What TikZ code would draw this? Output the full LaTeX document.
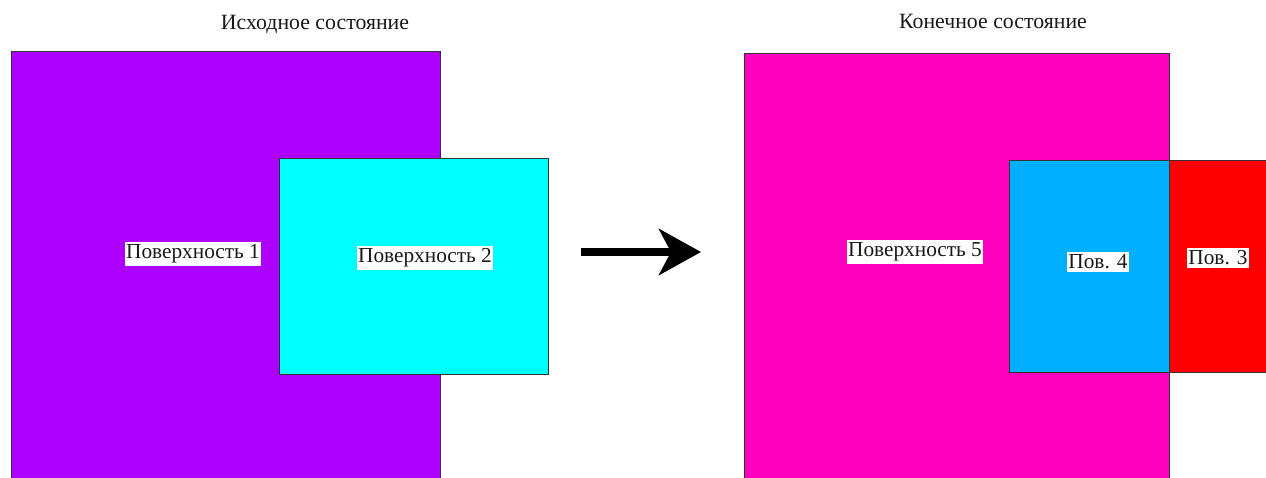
\documentclass[tikz,border=0pt]{standalone}
\usepackage{fontspec}
\setmainfont{Liberation Serif}
\usetikzlibrary{arrows.meta}
\definecolor{surfA}{RGB}{174,0,255}
\definecolor{surfB}{RGB}{0,255,255}
\definecolor{surfC}{RGB}{255,0,190}
\definecolor{surfD}{RGB}{0,176,255}
\definecolor{surfE}{RGB}{255,0,0}
\definecolor{edge}{RGB}{50,50,50}
\tikzset{
  surface/.style={draw=edge, line width=1pt},
  tag/.style={fill=white, inner xsep=1pt, inner ysep=2.5pt, font=\fontsize{21.3}{23}\selectfont, text=black!90},
  heading/.style={font=\fontsize{21.8}{24}\selectfont, text=black!90},
}
\begin{document}
\begin{tikzpicture}[x=1pt, y=-1pt]
  \useasboundingbox (0,0) rectangle (1266,477);
  \clip (0,0) rectangle (1266,477);
  \fill[white] (0,0) rectangle (1266,477);

  % initial state
  \node[heading] (titleL) at (315,24) {Исходное состояние};
  \filldraw[surface, fill=surfA] (11,51) rectangle (440,480);
  \filldraw[surface, fill=surfB] (279,158) rectangle (548,374);
  \node[tag] (s1) at (193,254) {Поверхность 1};
  \node[tag] (s2) at (425,258) {Поверхность 2};

  % transition
  \coordinate (from) at (581,252);
  \coordinate (to) at (701,252);
  \draw[line width=8pt, -{Stealth[length=42pt, width=46pt, inset=12pt]}] (from) -- (to);

  % final state
  \node[heading] (titleR) at (993,21) {Конечное состояние};
  \filldraw[surface, fill=surfC] (744,53) rectangle (1169,480);
  \filldraw[surface, fill=surfD] (1009,160) rectangle (1169,372);
  % surface 3 runs on past the right edge
  \fill[surfE] (1169,160) rectangle (1280,372);
  \draw[surface] (1280,160) -- (1169,160) -- (1169,372) -- (1280,372);
  \node[tag] (s5) at (915,252) {Поверхность 5};
  \node[tag] (s4) at (1098,262) {Пов. 4};
  \node[tag] (s3) at (1218,258) {Пов. 3};
\end{tikzpicture}
\end{document}
